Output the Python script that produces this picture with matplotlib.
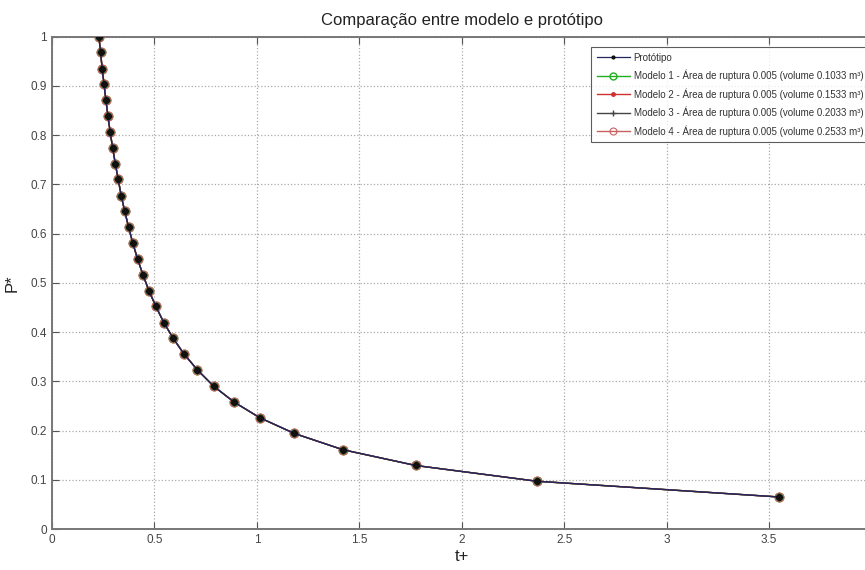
import matplotlib.pyplot as plt
from matplotlib.legend_handler import HandlerLine2D

# t+ e P* (todas as curvas coincidem)
t_plus = [0.229, 0.237, 0.245, 0.254, 0.263, 0.273, 0.284, 0.296, 0.309, 0.323,
          0.338, 0.355, 0.374, 0.394, 0.418, 0.444, 0.473, 0.507, 0.546, 0.592,
          0.645, 0.710, 0.789, 0.888, 1.014, 1.183, 1.420, 1.775, 2.367, 3.550]
p_star = [1.000, 0.968, 0.935, 0.903, 0.871, 0.839, 0.806, 0.774, 0.742, 0.710,
          0.677, 0.645, 0.613, 0.581, 0.548, 0.516, 0.484, 0.452, 0.419, 0.387,
          0.355, 0.323, 0.290, 0.258, 0.226, 0.194, 0.161, 0.129, 0.097, 0.065]

labels = ['Protótipo',
          'Modelo 1 - Área de ruptura 0.005 (volume 0.1033 m³)',
          'Modelo 2 - Área de ruptura 0.005 (volume 0.1533 m³)',
          'Modelo 3 - Área de ruptura 0.005 (volume 0.2033 m³)',
          'Modelo 4 - Área de ruptura 0.005 (volume 0.2533 m³)']

x_ticks = [0, 0.5, 1, 1.5, 2, 2.5, 3, 3.5, 4]
x_ticklabels = ['0', '0.5', '1', '1.5', '2', '2.5', '3', '3.5', '']
y_ticks = [0, 0.1, 0.2, 0.3, 0.4, 0.5, 0.6, 0.7, 0.8, 0.9, 1]
y_ticklabels = ['0', '0.1', '0.2', '0.3', '0.4', '0.5', '0.6', '0.7', '0.8', '0.9', '1']

plt.rcParams['font.family'] = ['Liberation Sans', 'DejaVu Sans']

fig = plt.figure(figsize=(8.65, 5.7), dpi=100)
ax = fig.add_axes([0.0601, 0.0719, 0.9475, 0.864])

h0, = ax.plot(t_plus, p_star, color='#24245e', marker='.', ms=8.5, mfc='#111111', mec='#111111',
              lw=0.9, zorder=6, label=labels[0])
h1, = ax.plot(t_plus, p_star, color='#22b022', marker='o', mfc='none', ms=6, lw=1.0, zorder=2, label=labels[1])
h2, = ax.plot(t_plus, p_star, color='#d03030', marker='.', ms=6, lw=1.0, zorder=3, label=labels[2])
h3, = ax.plot(t_plus, p_star, color='#444444', marker='+', ms=6, lw=1.0, zorder=5, label=labels[3])
h4, = ax.plot(t_plus, p_star, color='#c86060', marker='o', mfc='none', ms=6.5, mew=0.8, lw=1.0,
              zorder=4, label=labels[4])

ax.set_xlim(0, 4)
ax.set_ylim(0, 1)
ax.set_xticks(x_ticks)
ax.set_xticklabels(x_ticklabels)
ax.set_yticks(y_ticks)
ax.set_yticklabels(y_ticklabels)
ax.tick_params(direction='in', top=True, right=True, labelsize=8.5, colors='#555555',
               labelcolor='#444444', length=5)
ax.grid(True, linestyle=':', color='#aaaaaa', lw=0.9)
for s in ax.spines.values():
    s.set_color('#777777')
    s.set_linewidth(1.4)

ax.set_title('Comparação entre modelo e protótipo', fontsize=12, color='#222222', pad=8)
ax.set_xlabel('t+', fontsize=12, color='#222222', labelpad=2)
ax.set_ylabel('P*', fontsize=12, color='#222222', labelpad=8)


def small_marker(line, orig):
    line.update_from(orig)
    line.set_markersize(4 if orig is h0 else 5)


leg = ax.legend(handles=[h0, h1, h2, h3, h4], loc='upper left',
                bbox_to_anchor=(0.652, 0.988), fontsize=7, frameon=True,
                fancybox=False, edgecolor='#333333', handlelength=3.4,
                handletextpad=0.4, labelspacing=0.72, borderpad=0.55,
                handler_map={h: HandlerLine2D(update_func=small_marker) for h in [h0, h1, h2, h3, h4]})
leg.get_frame().set_linewidth(0.8)
for t in leg.get_texts():
    t.set_color('#333333')

fig.savefig('out.png', dpi=100)
